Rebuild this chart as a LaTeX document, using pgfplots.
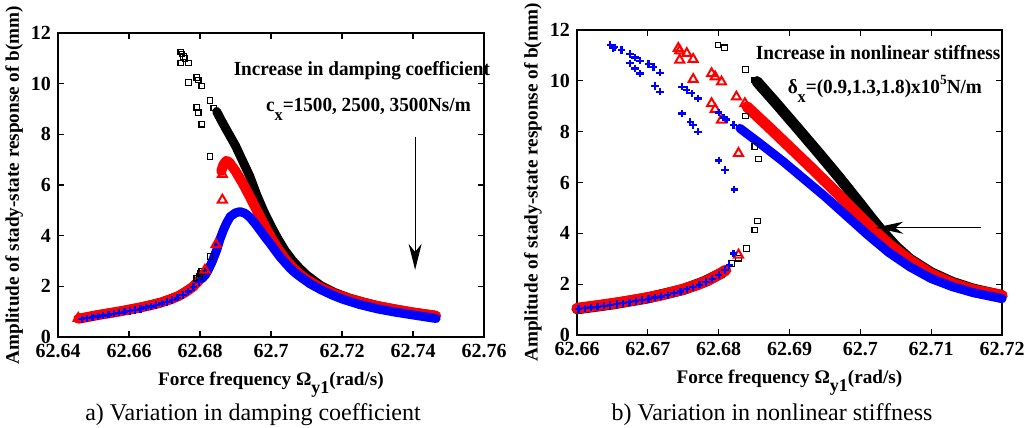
\documentclass[border=0pt]{standalone}
\usepackage{fontspec}
\setmainfont{Liberation Serif}
\usepackage{pgfplots}
\pgfplotsset{compat=1.18}
\usetikzlibrary{arrows.meta}

\pgfplotsset{
  panel/.style={
    scale only axis, ymin=0, ymax=12, ytick={0,2,...,12},
    tick align=inside, major tick length=2.8pt,
    tick style={black, line width=0.6pt},
    axis line style={line width=0.8pt},
    ticklabel style={font=\fontsize{10}{10}\selectfont\bfseries},
    /pgf/number format/assume math mode=true,
    label style={font=\fontsize{9.6}{9.6}\selectfont\bfseries},
    ylabel={Amplitude of stady-state response of b(mm)},
    xlabel={Force frequency Ω\raisebox{-0.45em}{\fontsize{9}{9}\selectfont y1}(rad/s)},
    xlabel style={at={(axis description cs:0.5,0)}, anchor=base, yshift=-24pt},
    clip=false,
  },
  band/.style={line width=#1, line join=round, line cap=round, mark=none},
  sq/.style={only marks, mark=square, mark size=1.4pt, mark options={black, line width=0.55pt}},
  tri/.style={only marks, mark=triangle, mark size=2.6pt, mark options={red, line width=1pt}},
  pl/.style={only marks, mark=+, mark size=1.85pt, mark options={blue, line width=1.15pt}},
}
\newcommand{\annot}[1]{\scalebox{0.96}[1]{\fontsize{10}{10}\selectfont\bfseries #1}}

\begin{document}
\begin{tikzpicture}
\useasboundingbox (0,0) rectangle (516.5pt,214pt);

% ---------------- a) damping
\begin{axis}[panel, at={(29pt,45.5pt)}, anchor=south west, width=213pt, height=152pt,
  xmin=62.64, xmax=62.76, xtick={62.64,62.66,62.68,62.7,62.72,62.74,62.76},
  xticklabels={62.64,62.66,62.68,62.7,62.72,62.74,62.76},
  ylabel style={at={(axis description cs:-0.103,0.5)}, anchor=center}]
% cx = 1500
\addplot[black, band=4.5pt] coordinates {(62.646,0.73) (62.651,0.87) (62.657,1.01) (62.663,1.17) (62.669,1.37) (62.674,1.63) (62.678,1.99) (62.6795,2.22)};
\addplot[black, band=4.5pt] coordinates {(62.6847,8.9) (62.686,8.55) (62.6875,8.17) (62.690,7.55) (62.692,6.95) (62.694,6.35) (62.696,5.6) (62.698,4.95) (62.700,4.38) (62.702,3.86) (62.704,3.4) (62.706,3.03) (62.708,2.72) (62.710,2.45) (62.714,2.03) (62.718,1.75) (62.722,1.54) (62.726,1.38) (62.730,1.24) (62.735,1.1) (62.740,0.98) (62.7465,0.85)};
\addplot[sq] coordinates {(62.6746,11.25) (62.6749,11.17) (62.6753,11.07) (62.6746,10.81) (62.6767,10.81) (62.6758,11.0) (62.6791,10.25) (62.6795,10.15) (62.6767,10.04) (62.6805,9.91) (62.6828,9.33) (62.6791,9.07) (62.6795,8.86) (62.6839,9.04) (62.6805,8.40) (62.6828,7.12) (62.6828,3.17) (62.6805,2.58) (62.6791,2.32) (62.6798,2.38) (62.6800,2.51)};
% cx = 2500
\addplot[red, band=5pt] coordinates {(62.6457,0.72) (62.648,0.78) (62.651,0.86) (62.654,0.93) (62.657,1.0) (62.660,1.08) (62.663,1.16) (62.666,1.25) (62.669,1.36) (62.672,1.5) (62.674,1.62) (62.676,1.78) (62.678,1.98) (62.6795,2.2) (62.681,2.45)};
\addplot[red, band=5pt] coordinates {(62.6860,6.55) (62.6866,6.8) (62.6874,6.95) (62.6882,6.9) (62.690,6.55) (62.692,6.08) (62.694,5.55) (62.696,5.0) (62.698,4.45) (62.700,3.93) (62.702,3.47) (62.704,3.08) (62.706,2.76) (62.708,2.5) (62.710,2.28) (62.714,1.95) (62.718,1.7) (62.722,1.51) (62.726,1.36) (62.730,1.22) (62.735,1.09) (62.740,0.97) (62.7465,0.84)};
\addplot[tri] coordinates {(62.6814,2.64) (62.6845,3.65) (62.6863,5.41) (62.6863,6.42) (62.6457,0.74)};
% cx = 3500
\addplot[pl] coordinates {(62.6467,0.70) (62.6482,0.74) (62.6497,0.78) (62.6512,0.81) (62.6527,0.85) (62.6542,0.88) (62.6557,0.92) (62.6572,0.96) (62.6587,1.00) (62.6602,1.03) (62.6617,1.07) (62.6632,1.11) (62.6647,1.16) (62.6662,1.20) (62.6677,1.26) (62.6692,1.32) (62.6707,1.38) (62.6722,1.46) (62.6737,1.55) (62.6752,1.66) (62.6767,1.80) (62.6782,1.97) (62.6797,2.17)};
\addplot[blue, band=4.5pt] coordinates {(62.6805,2.3) (62.6815,2.45) (62.6823,2.64) (62.6835,3.0) (62.6847,3.43) (62.6856,3.85) (62.6866,4.22) (62.6875,4.5) (62.6885,4.75) (62.690,4.9) (62.6913,4.95) (62.6927,4.88) (62.6941,4.72) (62.6955,4.48) (62.6969,4.22) (62.6983,3.95) (62.6997,3.7) (62.7011,3.43) (62.7025,3.17) (62.704,2.93) (62.7054,2.71) (62.7068,2.53) (62.7082,2.38) (62.711,2.1) (62.714,1.87) (62.717,1.67) (62.720,1.5) (62.725,1.28) (62.730,1.11) (62.735,0.98) (62.740,0.87) (62.7465,0.73)};
\node[anchor=base west, inner sep=0pt] at (axis cs:62.6894,10.34) {\annot{Increase in damping coefficient}};
\node[anchor=base west, inner sep=0pt] at (axis cs:62.6985,8.89) {\annot{c\raisebox{-0.45em}{\fontsize{8.5}{8.5}\selectfont x}=1500, 2500, 3500Ns/m}};
\draw[-{Stealth[length=13pt,width=6.5pt,inset=4pt]}, line width=0.6pt] (axis cs:62.7406,7.91) -- (axis cs:62.7406,2.65);
\end{axis}

% ---------------- b) nonlinear stiffness
\begin{axis}[panel, at={(288.5pt,46.5pt)}, anchor=south west, width=212.5pt, height=152.5pt,
  xmin=62.66, xmax=62.72, xtick={62.66,62.67,62.68,62.69,62.7,62.71,62.72},
  xticklabels={62.66,62.67,62.68,62.69,62.7,62.71,62.72},
  ylabel style={at={(axis description cs:-0.1035,0.5)}, anchor=center}]
% delta = 0.9e5
\addplot[black, band=5.5pt] coordinates {(62.660,1.03) (62.665,1.22) (62.670,1.46) (62.675,1.79) (62.678,2.1) (62.6805,2.45)};
\addplot[black, band=5.5pt] coordinates {(62.6854,9.97) (62.688,9.15) (62.691,8.18) (62.694,7.2) (62.697,6.2) (62.700,5.15) (62.7014,4.65) (62.703,4.1) (62.705,3.48) (62.707,2.98) (62.710,2.45) (62.713,2.07) (62.716,1.8) (62.720,1.55)};
\addplot[sq] coordinates {(62.6799,11.41) (62.6808,11.3) (62.6838,10.45) (62.6851,10.03) (62.6856,9.9) (62.6838,8.62) (62.6851,7.41) (62.6856,6.92) (62.6855,4.48) (62.6851,4.13) (62.6839,3.41) (62.6828,3.02) (62.6818,2.82)};
% delta = 1.3e5
\addplot[red, band=5.5pt] coordinates {(62.6600,1.05) (62.663,1.16) (62.666,1.28) (62.669,1.42) (62.672,1.58) (62.675,1.8) (62.677,1.98) (62.6785,2.15) (62.680,2.38) (62.681,2.55)};
\addplot[red, band=5.5pt] coordinates {(62.684,8.98) (62.687,8.2) (62.690,7.4) (62.693,6.6) (62.696,5.78) (62.699,4.93) (62.7014,4.26) (62.704,3.58) (62.707,2.94) (62.710,2.4) (62.713,2.03) (62.716,1.77) (62.720,1.56)};
\addplot[tri] coordinates {(62.6743,11.28) (62.6745,11.18) (62.6755,11.08) (62.6745,10.82) (62.6764,10.85) (62.6764,10.06) (62.679,10.29) (62.6795,10.16) (62.6804,9.96) (62.679,9.11) (62.6795,8.88) (62.6804,8.46) (62.6825,9.37) (62.6837,9.11) (62.6828,7.15) (62.6828,3.15)};
% delta = 1.8e5
\addplot[pl] coordinates {(62.6602,1.02) (62.6611,1.05) (62.6620,1.08) (62.6629,1.11) (62.6638,1.15) (62.6647,1.18) (62.6656,1.22) (62.6665,1.25) (62.6674,1.29) (62.6683,1.33) (62.6692,1.38) (62.6701,1.42) (62.6710,1.47) (62.6719,1.52) (62.6728,1.57) (62.6737,1.64) (62.6746,1.71) (62.6755,1.80) (62.6764,1.88) (62.6773,1.98) (62.6782,2.08) (62.6791,2.21) (62.6800,2.36) (62.6809,2.55) (62.6815,2.75) (62.6821,3.21)};
\addplot[pl] coordinates {(62.6647,11.41) (62.6651,11.28) (62.6653,11.32) (62.6663,11.21) (62.6675,11.05) (62.6682,10.92) (62.6689,10.79) (62.6701,10.66) (62.6708,10.55) (62.6717,10.32) (62.6675,10.69) (62.6682,10.49) (62.6689,10.29) (62.671,9.8) (62.6717,9.57) (62.6748,9.77) (62.6755,9.64) (62.6762,9.51) (62.6771,9.31) (62.6748,8.72) (62.676,8.39) (62.6764,8.26) (62.6771,8.0) (62.68,8.75) (62.6807,8.56) (62.6811,8.48) (62.6821,8.26) (62.68,6.86) (62.6809,6.49) (62.6822,5.73)};
\addplot[blue, band=4.5pt] coordinates {(62.683,8.13) (62.686,7.5) (62.689,6.85) (62.692,6.15) (62.695,5.45) (62.698,4.7) (62.701,3.95) (62.704,3.25) (62.707,2.68) (62.710,2.22) (62.713,1.9) (62.716,1.66) (62.720,1.43)};
\node[anchor=base west, inner sep=0pt] at (axis cs:62.6852,10.82) {\annot{Increase in nonlinear stiffness}};
\node[anchor=base west, inner sep=0pt] at (axis cs:62.6897,9.51) {\annot{δ\raisebox{-0.45em}{\fontsize{8.5}{8.5}\selectfont x}=(0.9,1.3,1.8)x10\raisebox{0.45em}{\fontsize{7}{7}\selectfont 5}N/m}};
\draw[-{Stealth[length=14pt,width=6pt,inset=4pt]}, line width=0.6pt] (axis cs:62.7171,4.22) -- (axis cs:62.7021,4.22);
\end{axis}

\node[anchor=base, font=\fontsize{12}{12}\selectfont] at (126.5pt,3.6pt) {a) Variation in damping coefficient};
\node[anchor=base, font=\fontsize{12}{12}\selectfont] at (386pt,3.6pt) {b) Variation in nonlinear stiffness};
\end{tikzpicture}
\end{document}
